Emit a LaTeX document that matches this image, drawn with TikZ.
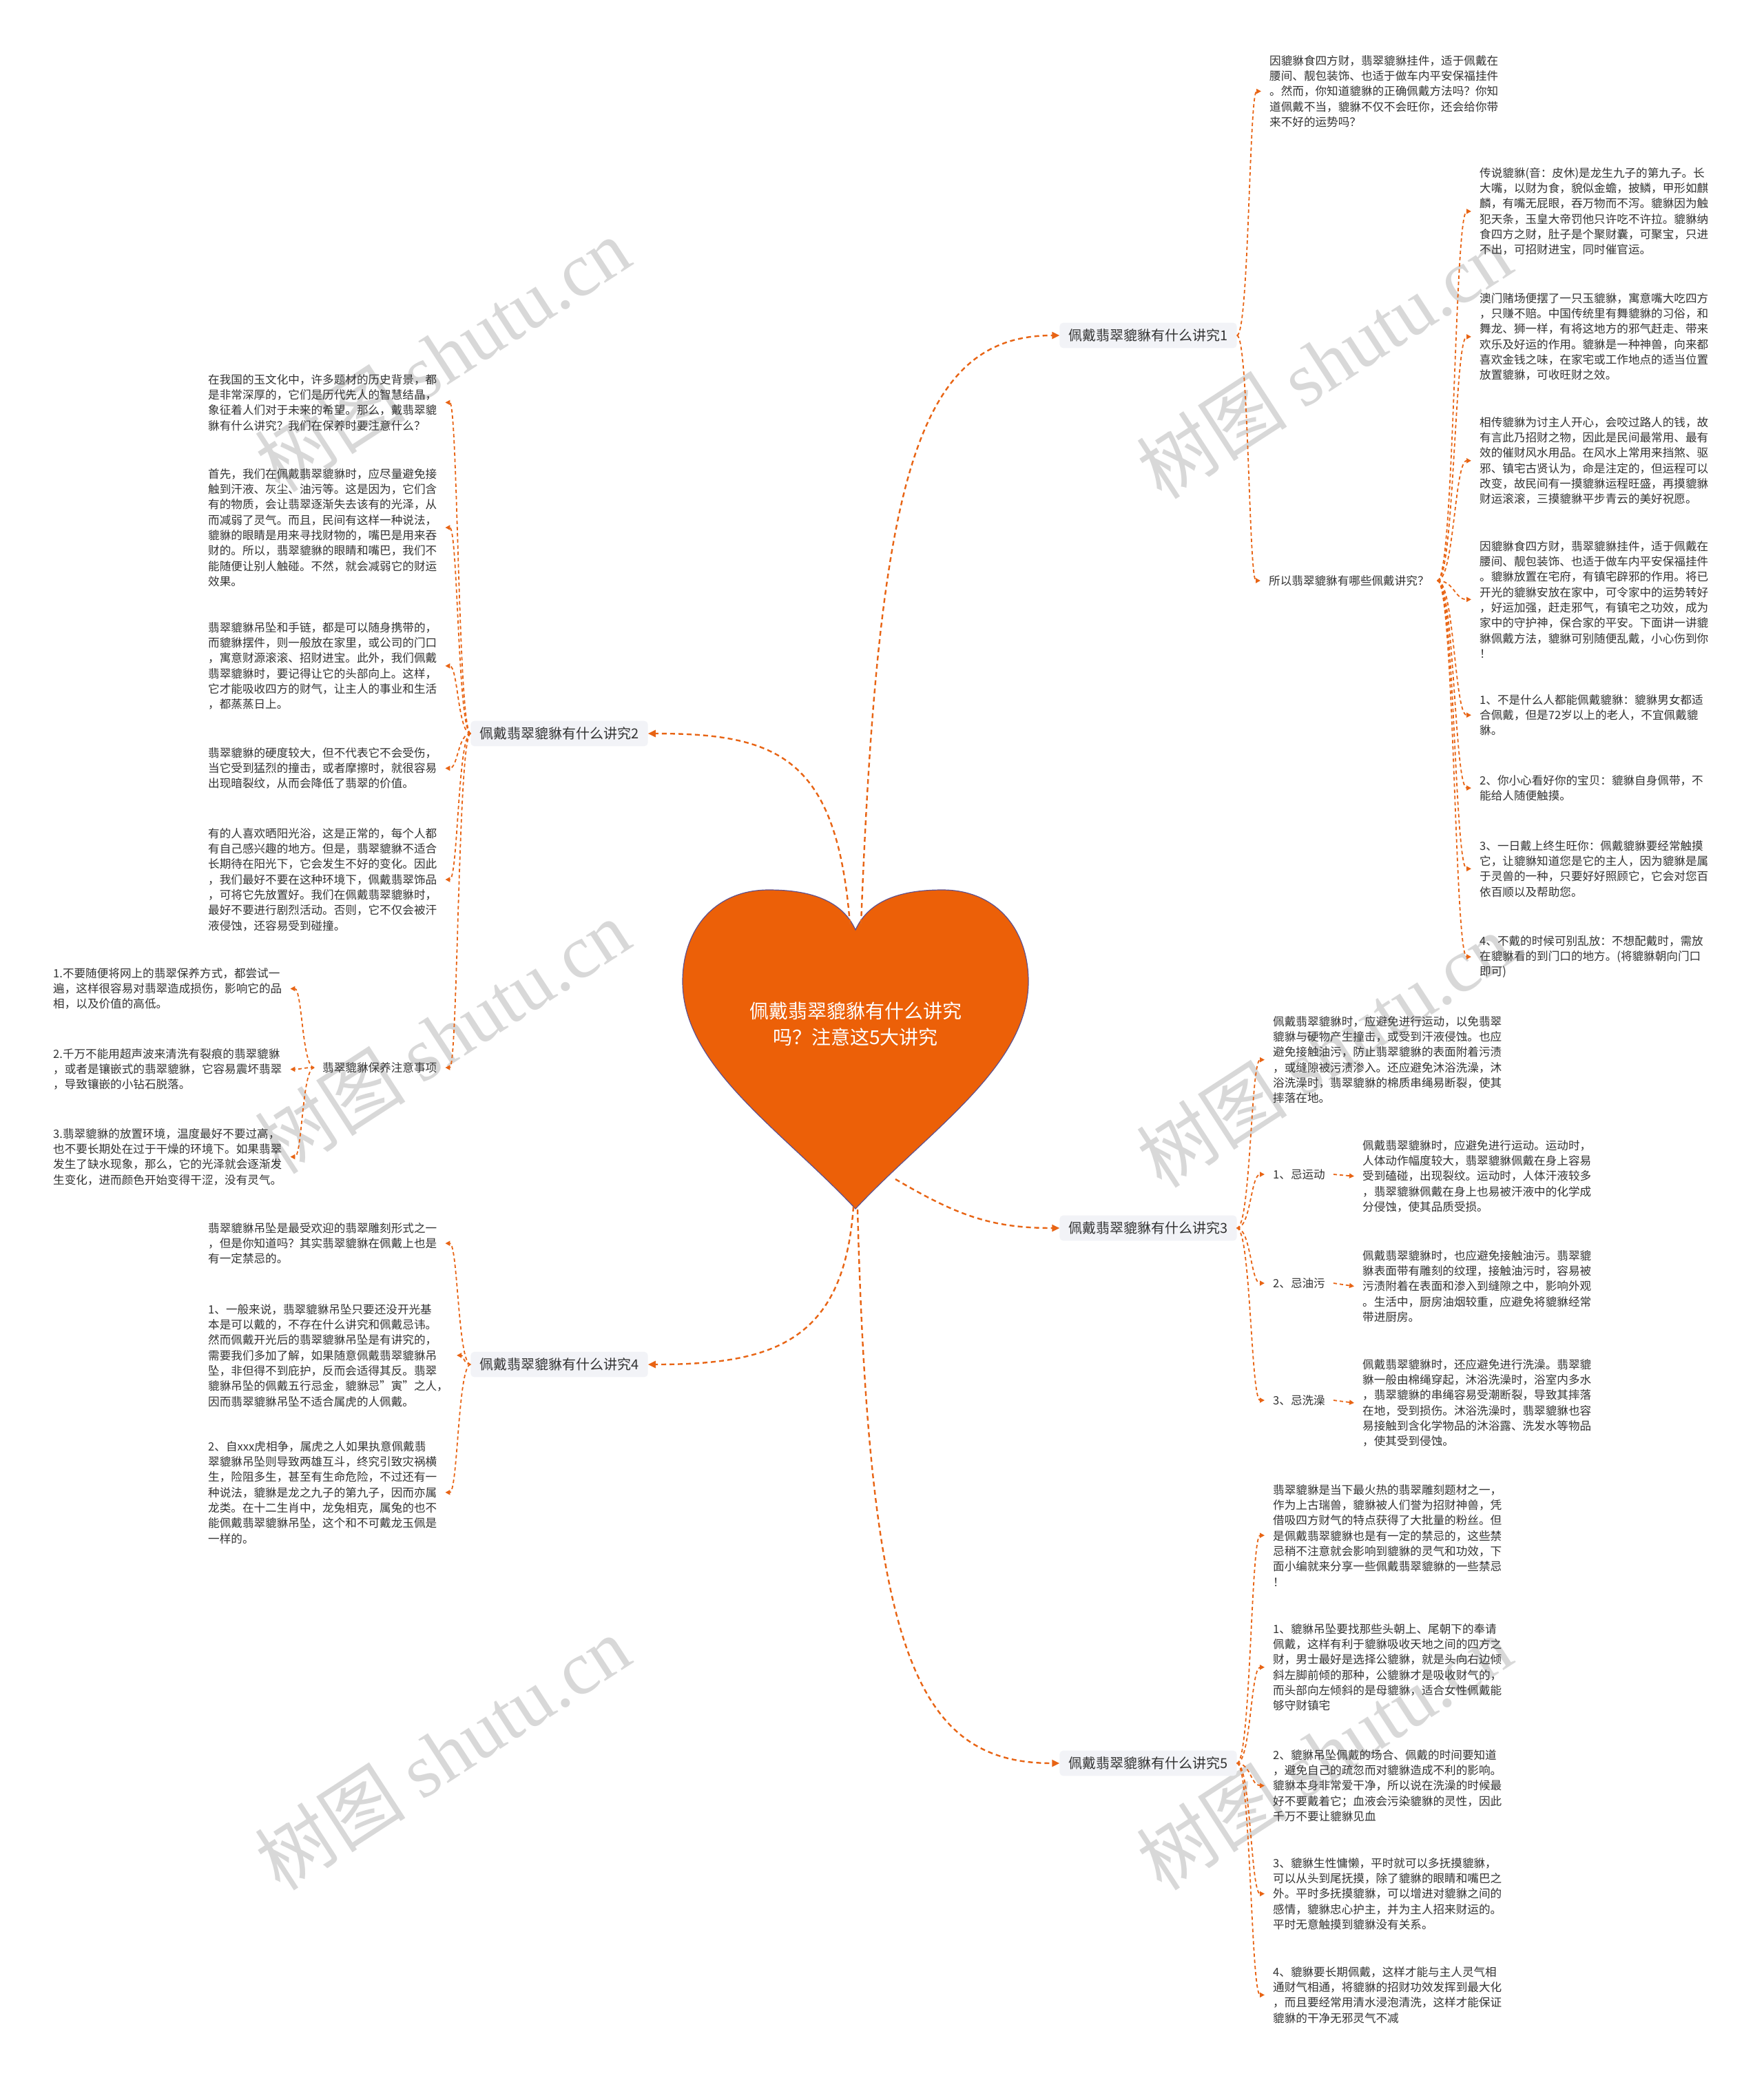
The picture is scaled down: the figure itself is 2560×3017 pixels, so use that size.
\documentclass[tikz,border=0pt]{standalone}
\usepackage{fontspec}
\setmainfont{Noto Sans CJK SC}
\newfontfamily\wmserif{Liberation Serif}
\usetikzlibrary{arrows.meta,calc}
\definecolor{txt}{RGB}{51,51,51}
\definecolor{bfill}{RGB}{242,243,247}
\definecolor{org}{RGB}{232,100,20}
\definecolor{heartc}{RGB}{236,96,8}
\definecolor{heartline}{RGB}{95,80,140}
\definecolor{wmc}{RGB}{185,185,185}
\newcommand\mmconn[3][]{\draw[sub,#1] let \p1=(#2), \p2=(#3) in (\p1) .. controls ({(\x1+\x2)/2},\y1) and ({(\x1+\x2)/2},\y2) .. (\p2);}
\begin{document}
\begin{tikzpicture}[x=1pt,y=-1pt,
  leaf/.style={font=\fontsize{16.6}{22.3}\selectfont,text=txt,align=left,inner xsep=12pt,inner ysep=0pt,anchor=north west,xshift=-12pt},
  lbl/.style={font=\fontsize{16.6}{22.3}\selectfont,text=txt,inner xsep=12pt,inner ysep=3pt,anchor=west,xshift=-12pt},
  branch/.style={font=\fontsize{20}{24}\selectfont,text=txt,fill=bfill,rounded corners=5pt,inner xsep=13pt,inner ysep=9pt},
  sub/.style={draw=org,line width=1.8pt,dash pattern=on 5pt off 4pt,-{Triangle[length=7pt,width=7pt]}},
  main/.style={draw=org,line width=2.4pt,dash pattern=on 7pt off 5pt,-{Triangle[length=11pt,width=10pt]}},
  wm/.style={text=wmc,opacity=0.55,rotate=33,font=\fontsize{110}{110}\selectfont}
]
\useasboundingbox (0,0) rectangle (2560,3017);
\fill[white] (0,0) rectangle (2560,3017);
% watermarks
\foreach \wx/\wy [count=\i] in {642/515,1922/525,642/1505,1922/1525,642/2545,1922/2545}
  \node[wm] (wm\i) at (\wx,\wy) {树图 {\wmserif shutu.cn}};
% heart
\fill[heartc,draw=heartline,line width=1.2pt] (1242,1350) .. controls (1262,1306) and (1310,1292) .. (1368,1292) .. controls (1447,1292) and (1493,1350) .. (1493,1425) .. controls (1493,1548) and (1350,1640) .. (1242,1755) .. controls (1134,1640) and (991,1548) .. (991,1425) .. controls (991,1350) and (1037,1292) .. (1116,1292) .. controls (1174,1292) and (1222,1306) .. (1242,1350) -- cycle;
\node[text=white,font=\fontsize{28}{38}\selectfont,align=center] (ctr) at (1242,1487) {佩戴翡翠貔貅有什么讲究\\吗？注意这5大讲究};
\coordinate (hA) at (1250,1342);
\coordinate (hB) at (1234,1342);
\coordinate (hC) at (1300,1712);
\coordinate (hD) at (1239,1752);
\coordinate (hE) at (1245,1756);
% branches
\node[branch] (b1) at (1667,487) {佩戴翡翠貔貅有什么讲究1};
\node[branch] (b2) at (812,1065) {佩戴翡翠貔貅有什么讲究2};
\node[branch] (b3) at (1667,1783) {佩戴翡翠貔貅有什么讲究3};
\node[branch] (b4) at (812,1981) {佩戴翡翠貔貅有什么讲究4};
\node[branch] (b5) at (1667,2560) {佩戴翡翠貔貅有什么讲究5};
% branch 1
\node[leaf] (r0) at (1843,80) {因貔貅食四方财，翡翠貔貅挂件，适于佩戴在\\腰间、靓包装饰、也适于做车内平安保福挂件\\。然而，你知道貔貅的正确佩戴方法吗？你知\\道佩戴不当，貔貅不仅不会旺你，还会给你带\\来不好的运势吗？};
\node[lbl] (s1) at (1842,843) {所以翡翠貔貅有哪些佩戴讲究？};
\node[leaf] (r1) at (2148,243) {传说貔貅(音：皮休)是龙生九子的第九子。长\\大嘴，以财为食，貌似金蟾，披鳞，甲形如麒\\麟，有嘴无屁眼，吞万物而不泻。貔貅因为触\\犯天条，玉皇大帝罚他只许吃不许拉。貔貅纳\\食四方之财，肚子是个聚财囊，可聚宝，只进\\不出，可招财进宝，同时催官运。};
\node[leaf] (r2) at (2148,425) {澳门赌场便摆了一只玉貔貅，寓意嘴大吃四方\\，只赚不赔。中国传统里有舞貔貅的习俗，和\\舞龙、狮一样，有将这地方的邪气赶走、带来\\欢乐及好运的作用。貔貅是一种神兽，向来都\\喜欢金钱之味，在家宅或工作地点的适当位置\\放置貔貅，可收旺财之效。};
\node[leaf] (r3) at (2148,605) {相传貔貅为讨主人开心，会咬过路人的钱，故\\有言此乃招财之物，因此是民间最常用、最有\\效的催财风水用品。在风水上常用来挡煞、驱\\邪、镇宅古贤认为，命是注定的，但运程可以\\改变，故民间有一摸貔貅运程旺盛，再摸貔貅\\财运滚滚，三摸貔貅平步青云的美好祝愿。};
\node[leaf] (r4) at (2148,785) {因貔貅食四方财，翡翠貔貅挂件，适于佩戴在\\腰间、靓包装饰、也适于做车内平安保福挂件\\。貔貅放置在宅府，有镇宅辟邪的作用。将已\\开光的貔貅安放在家中，可令家中的运势转好\\，好运加强，赶走邪气，有镇宅之功效，成为\\家中的守护神，保合家的平安。下面讲一讲貔\\貅佩戴方法，貔貅可别随便乱戴，小心伤到你\\！};
\node[leaf] (r5) at (2148,1008) {1、不是什么人都能佩戴貔貅：貔貅男女都适\\合佩戴，但是72岁以上的老人，不宜佩戴貔\\貅。};
\node[leaf] (r6) at (2148,1125) {2、你小心看好你的宝贝：貔貅自身佩带，不\\能给人随便触摸。};
\node[leaf] (r7) at (2148,1220) {3、一日戴上终生旺你：佩戴貔貅要经常触摸\\它，让貔貅知道您是它的主人，因为貔貅是属\\于灵兽的一种，只要好好照顾它，它会对您百\\依百顺以及帮助您。};
\node[leaf] (r8) at (2148,1358) {4、不戴的时候可别乱放：不想配戴时，需放\\在貔貅看的到门口的地方。(将貔貅朝向门口\\即可)};
% branch 3
\node[leaf] (t0) at (1848,1475) {佩戴翡翠貔貅时，应避免进行运动，以免翡翠\\貔貅与硬物产生撞击，或受到汗液侵蚀。也应\\避免接触油污，防止翡翠貔貅的表面附着污渍\\，或缝隙被污渍渗入。还应避免沐浴洗澡，沐\\浴洗澡时，翡翠貔貅的棉质串绳易断裂，使其\\摔落在地。};
\node[lbl] (q1) at (1848,1705) {1、忌运动};
\node[lbl] (q2) at (1848,1863) {2、忌油污};
\node[lbl] (q3) at (1848,2033) {3、忌洗澡};
\node[leaf] (t1) at (1978,1655) {佩戴翡翠貔貅时，应避免进行运动。运动时，\\人体动作幅度较大，翡翠貔貅佩戴在身上容易\\受到磕碰，出现裂纹。运动时，人体汗液较多\\，翡翠貔貅佩戴在身上也易被汗液中的化学成\\分侵蚀，使其品质受损。};
\node[leaf] (t2) at (1978,1815) {佩戴翡翠貔貅时，也应避免接触油污。翡翠貔\\貅表面带有雕刻的纹理，接触油污时，容易被\\污渍附着在表面和渗入到缝隙之中，影响外观\\。生活中，厨房油烟较重，应避免将貔貅经常\\带进厨房。};
\node[leaf] (t3) at (1978,1973) {佩戴翡翠貔貅时，还应避免进行洗澡。翡翠貔\\貅一般由棉绳穿起，沐浴洗澡时，浴室内多水\\，翡翠貔貅的串绳容易受潮断裂，导致其摔落\\在地，受到损伤。沐浴洗澡时，翡翠貔貅也容\\易接触到含化学物品的沐浴露、洗发水等物品\\，使其受到侵蚀。};
% branch 5
\node[leaf] (f1) at (1848,2155) {翡翠貔貅是当下最火热的翡翠雕刻题材之一，\\作为上古瑞兽，貔貅被人们誉为招财神兽，凭\\借吸四方财气的特点获得了大批量的粉丝。但\\是佩戴翡翠貔貅也是有一定的禁忌的，这些禁\\忌稍不注意就会影响到貔貅的灵气和功效，下\\面小编就来分享一些佩戴翡翠貔貅的一些禁忌\\！};
\node[leaf] (f2) at (1848,2357) {1、貔貅吊坠要找那些头朝上、尾朝下的奉请\\佩戴，这样有利于貔貅吸收天地之间的四方之\\财，男士最好是选择公貔貅，就是头向右边倾\\斜左脚前倾的那种，公貔貅才是吸收财气的，\\而头部向左倾斜的是母貔貅，适合女性佩戴能\\够守财镇宅};
\node[leaf] (f3) at (1848,2540) {2、貔貅吊坠佩戴的场合、佩戴的时间要知道\\，避免自己的疏忽而对貔貅造成不利的影响。\\貔貅本身非常爱干净，所以说在洗澡的时候最\\好不要戴着它；血液会污染貔貅的灵性，因此\\千万不要让貔貅见血};
\node[leaf] (f4) at (1848,2697) {3、貔貅生性慵懒，平时就可以多抚摸貔貅，\\可以从头到尾抚摸，除了貔貅的眼睛和嘴巴之\\外。平时多抚摸貔貅，可以增进对貔貅之间的\\感情，貔貅忠心护主，并为主人招来财运的。\\平时无意触摸到貔貅没有关系。};
\node[leaf] (f5) at (1848,2855) {4、貔貅要长期佩戴，这样才能与主人灵气相\\通财气相通，将貔貅的招财功效发挥到最大化\\，而且要经常用清水浸泡清洗，这样才能保证\\貔貅的干净无邪灵气不减};
% branch 2
\node[leaf] (l1) at (302,543) {在我国的玉文化中，许多题材的历史背景，都\\是非常深厚的，它们是历代先人的智慧结晶，\\象征着人们对于未来的希望。那么，戴翡翠貔\\貅有什么讲究？我们在保养时要注意什么？};
\node[leaf] (l2) at (302,680) {首先，我们在佩戴翡翠貔貅时，应尽量避免接\\触到汗液、灰尘、油污等。这是因为，它们含\\有的物质，会让翡翠逐渐失去该有的光泽，从\\而减弱了灵气。而且，民间有这样一种说法，\\貔貅的眼睛是用来寻找财物的，嘴巴是用来吞\\财的。所以，翡翠貔貅的眼睛和嘴巴，我们不\\能随便让别人触碰。不然，就会减弱它的财运\\效果。};
\node[leaf] (l3) at (302,903) {翡翠貔貅吊坠和手链，都是可以随身携带的，\\而貔貅摆件，则一般放在家里，或公司的门口\\，寓意财源滚滚、招财进宝。此外，我们佩戴\\翡翠貔貅时，要记得让它的头部向上。这样，\\它才能吸收四方的财气，让主人的事业和生活\\，都蒸蒸日上。};
\node[leaf] (l4) at (302,1085) {翡翠貔貅的硬度较大，但不代表它不会受伤，\\当它受到猛烈的撞击，或者摩擦时，就很容易\\出现暗裂纹，从而会降低了翡翠的价值。};
\node[leaf] (l5) at (302,1202) {有的人喜欢晒阳光浴，这是正常的，每个人都\\有自己感兴趣的地方。但是，翡翠貔貅不适合\\长期待在阳光下，它会发生不好的变化。因此\\，我们最好不要在这种环境下，佩戴翡翠饰品\\，可将它先放置好。我们在佩戴翡翠貔貅时，\\最好不要进行剧烈活动。否则，它不仅会被汗\\液侵蚀，还容易受到碰撞。};
\node[lbl] (m) at (468,1550) {翡翠貔貅保养注意事项};
\node[leaf] (m1) at (77,1405) {1.不要随便将网上的翡翠保养方式，都尝试一\\遍，这样很容易对翡翠造成损伤，影响它的品\\相，以及价值的高低。};
\node[leaf] (m2) at (77,1522) {2.千万不能用超声波来清洗有裂痕的翡翠貔貅\\，或者是镶嵌式的翡翠貔貅，它容易震坏翡翠\\，导致镶嵌的小钻石脱落。};
\node[leaf] (m3) at (77,1638) {3.翡翠貔貅的放置环境，温度最好不要过高，\\也不要长期处在过于干燥的环境下。如果翡翠\\发生了缺水现象，那么，它的光泽就会逐渐发\\生变化，进而颜色开始变得干涩，没有灵气。};
% branch 4
\node[leaf] (k1) at (302,1775) {翡翠貔貅吊坠是最受欢迎的翡翠雕刻形式之一\\，但是你知道吗？其实翡翠貔貅在佩戴上也是\\有一定禁忌的。};
\node[leaf] (k2) at (302,1893) {1、一般来说，翡翠貔貅吊坠只要还没开光基\\本是可以戴的，不存在什么讲究和佩戴忌讳。\\然而佩戴开光后的翡翠貔貅吊坠是有讲究的，\\需要我们多加了解，如果随意佩戴翡翠貔貅吊\\坠，非但得不到庇护，反而会适得其反。翡翠\\貔貅吊坠的佩戴五行忌金，貔貅忌"寅"之人，\\因而翡翠貔貅吊坠不适合属虎的人佩戴。};
\node[leaf] (k3) at (302,2092) {2、自xxx虎相争，属虎之人如果执意佩戴翡\\翠貔貅吊坠则导致两雄互斗，终究引致灾祸横\\生，险阻多生，甚至有生命危险，不过还有一\\种说法，貔貅是龙之九子的第九子，因而亦属\\龙类。在十二生肖中，龙兔相克，属兔的也不\\能佩戴翡翠貔貅吊坠，这个和不可戴龙玉佩是\\一样的。};
% main connectors
\draw[main] (hA) .. controls (1275,700) and (1330,487) .. (b1.west);
\draw[main] (hB) .. controls (1215,1100) and (1130,1065) .. (b2.east);
\draw[main] (hC) .. controls (1390,1765) and (1440,1783) .. (b3.west);
\draw[main] (hD) .. controls (1225,1950) and (1120,1981) .. (b4.east);
\draw[main] (hE) .. controls (1262,2400) and (1330,2560) .. (b5.west);
% sub connectors
\mmconn{b1.east}{r0.west}
\mmconn{b1.east}{s1.west}
\foreach \c in {r1,r2,r3,r4,r5,r6,r7,r8} {\mmconn{s1.east}{\c.west}}
\foreach \c in {t0,q1,q2,q3} {\mmconn{b3.east}{\c.west}}
\draw[sub] (q1.east) -- (t1.west);
\draw[sub] (q2.east) -- (t2.west);
\draw[sub] (q3.east) -- (t3.west);
\foreach \c in {f1,f2,f3,f4,f5} {\mmconn{b5.east}{\c.west}}
\foreach \c in {l1,l2,l3,l4,l5,m} {\mmconn{b2.west}{\c.east}}
\foreach \c in {m1,m2,m3} {\mmconn{m.west}{\c.east}}
\foreach \c in {k1,k2,k3} {\mmconn{b4.west}{\c.east}}
\end{tikzpicture}
\end{document}
